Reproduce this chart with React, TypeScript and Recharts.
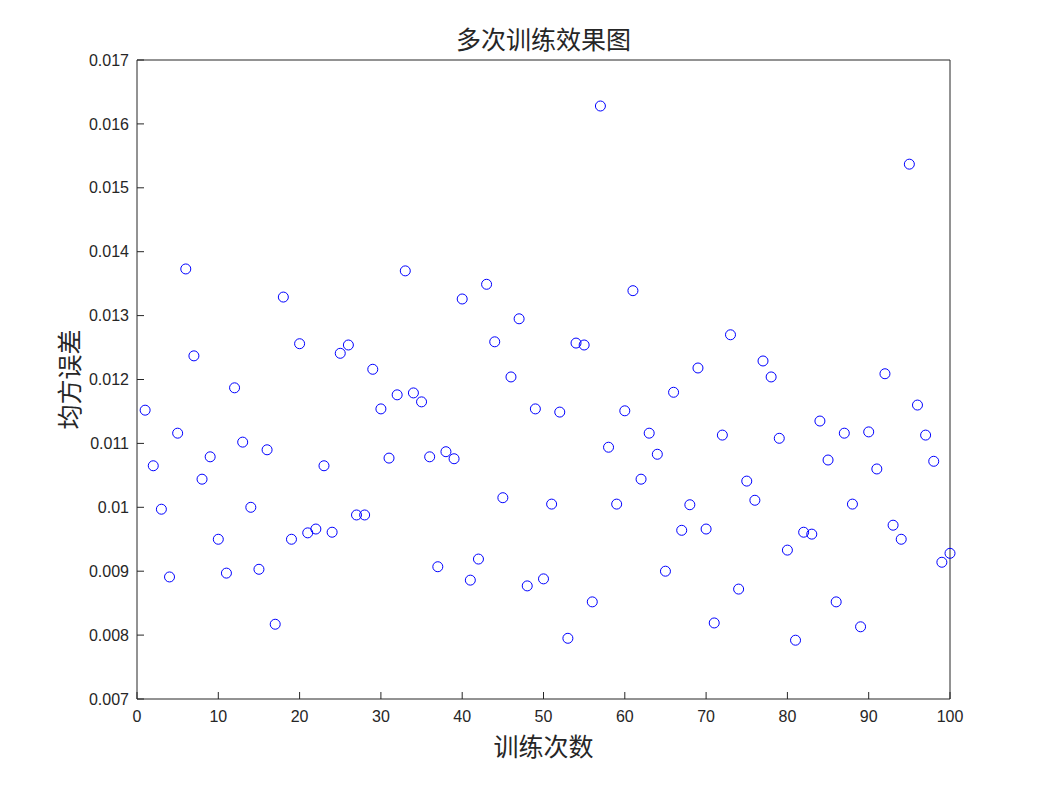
import { ScatterChart, Scatter, XAxis, YAxis, Label } from "recharts";

// 均方误差 for each training run (run number = index + 1)
const mseValues = [
  0.01152, 0.01065, 0.00997, 0.00891, 0.01116, 0.01373, 0.01237, 0.01044, 0.01079, 0.0095,
  0.00897, 0.01187, 0.01102, 0.01, 0.00903, 0.0109, 0.00817, 0.01329, 0.0095, 0.01256,
  0.0096, 0.00966, 0.01065, 0.00961, 0.01241, 0.01254, 0.00988, 0.00988, 0.01216, 0.01154,
  0.01077, 0.01176, 0.0137, 0.01179, 0.01165, 0.01079, 0.00907, 0.01087, 0.01076, 0.01326,
  0.00886, 0.00919, 0.01349, 0.01259, 0.01015, 0.01204, 0.01295, 0.00877, 0.01154, 0.00888,
  0.01005, 0.01149, 0.00795, 0.01257, 0.01254, 0.00852, 0.01628, 0.01094, 0.01005, 0.01151,
  0.01339, 0.01044, 0.01116, 0.01083, 0.009, 0.0118, 0.00964, 0.01004, 0.01218, 0.00966,
  0.00819, 0.01113, 0.0127, 0.00872, 0.01041, 0.01011, 0.01229, 0.01204, 0.01108, 0.00933,
  0.00792, 0.00961, 0.00958, 0.01135, 0.01074, 0.00852, 0.01116, 0.01005, 0.00813, 0.01118,
  0.0106, 0.01209, 0.00972, 0.0095, 0.01537, 0.0116, 0.01113, 0.01072, 0.00914, 0.00928,
];

const xTicks = [0, 10, 20, 30, 40, 50, 60, 70, 80, 90, 100];
const yTicks = [0.007, 0.008, 0.009, 0.01, 0.011, 0.012, 0.013, 0.014, 0.015, 0.016, 0.017];

const title = "多次训练效果图";
const xLabel = "训练次数";
const yLabel = "均方误差";

const data = mseValues.map((v, i) => ({ run: i + 1, mse: v }));

const AXIS = "#262626";
const tickFont = { fill: AXIS, fontSize: 16, fontFamily: "Liberation Sans, Arial, sans-serif" };
const cjkFont = "'Noto Sans CJK SC', sans-serif";

const fmtY = (v: number) => (Math.abs(v - 0.01) < 1e-9 ? "0.01" : v.toFixed(3));

const Ring = (props: any) => {
  const { cx, cy } = props;
  if (cx == null || cy == null) return null;
  return <circle cx={cx} cy={cy} r={5} fill="none" stroke="#0000ff" strokeWidth={1} />;
};

export default function App() {
  return (
    <div style={{ width: 1043, height: 777, background: "#fff" }}>
      <ScatterChart
        width={1043}
        height={777}
        margin={{ top: 51, right: 100, bottom: 85, left: 128 }}
      >
        <XAxis
          xAxisId="b"
          type="number"
          dataKey="run"
          domain={[0, 100]}
          ticks={xTicks}
          height={1}
          tickSize={-7}
          tickMargin={19}
          tick={tickFont}
          stroke={AXIS}
          interval={0}
        >
          <Label
            content={({ viewBox }: any) => (
              <text
                x={viewBox.x + viewBox.width / 2}
                y={viewBox.y + 46}
                textAnchor="middle"
                dominantBaseline="central"
                fill={AXIS}
                fontSize={25}
                fontFamily={cjkFont}
              >
                {xLabel}
              </text>
            )}
          />
        </XAxis>
        <XAxis
          xAxisId="t"
          orientation="top"
          type="number"
          domain={[0, 100]}
          ticks={xTicks}
          height={1}
          tickSize={-7}
          tick={false}
          stroke={AXIS}
          interval={0}
        >
          <Label
            content={({ viewBox }: any) => (
              <text
                x={viewBox.x + viewBox.width / 2}
                y={viewBox.y - 21}
                textAnchor="middle"
                dominantBaseline="central"
                fill={AXIS}
                fontSize={25}
                fontFamily={cjkFont}
              >
                {title}
              </text>
            )}
          />
        </XAxis>
        <YAxis
          yAxisId="l"
          type="number"
          dataKey="mse"
          domain={[0.007, 0.017]}
          ticks={yTicks}
          width={1}
          tickSize={-7}
          tickMargin={15}
          tick={tickFont}
          tickFormatter={fmtY}
          stroke={AXIS}
          interval={0}
        >
          <Label
            content={({ viewBox }: any) => {
              const cx = viewBox.x + viewBox.width - 69;
              const cy = viewBox.y + viewBox.height / 2;
              return (
                <text
                  x={cx}
                  y={cy}
                  transform={`rotate(-90 ${cx} ${cy})`}
                  textAnchor="middle"
                  dominantBaseline="central"
                  fill={AXIS}
                  fontSize={25}
                  fontFamily={cjkFont}
                >
                  {yLabel}
                </text>
              );
            }}
          />
        </YAxis>
        <YAxis
          yAxisId="r"
          orientation="right"
          type="number"
          domain={[0.007, 0.017]}
          ticks={yTicks}
          width={1}
          tickSize={-7}
          tick={false}
          stroke={AXIS}
          interval={0}
        />
        <Scatter
          data={data}
          xAxisId="b"
          yAxisId="l"
          shape={Ring}
          isAnimationActive={false}
        />
      </ScatterChart>
    </div>
  );
}
